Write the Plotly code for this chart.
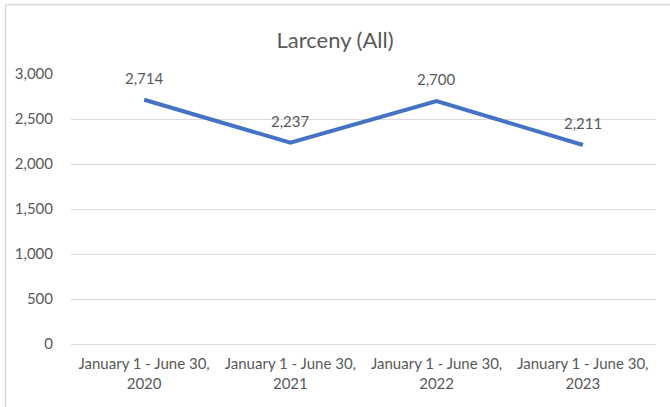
import plotly.graph_objects as go

categories = ["January 1 - June 30,<br>2020", "January 1 - June 30,<br>2021",
              "January 1 - June 30,<br>2022", "January 1 - June 30,<br>2023"]
values = [2714, 2237, 2700, 2211]
y_ticks = [0, 500, 1000, 1500, 2000, 2500, 3000]
y_tick_labels = ["0", "500", "1,000", "1,500", "2,000", "2,500", "3,000"]

FONT = "Lato"
GRAY = "#595959"
TICK_SIZE = 15

fig = go.Figure()
fig.add_trace(go.Scatter(
    x=categories, y=values, mode="lines",
    line=dict(color="#4472C4", width=4),
    hoverinfo="skip", showlegend=False,
))

for c, v in zip(categories, values):
    fig.add_annotation(x=c, y=v, text=f"{v:,}", showarrow=False, yshift=22,
                       font=dict(family=FONT, size=TICK_SIZE, color=GRAY))

W, H = 670, 407
L, R, T, B = 71, 14, 74, 63
pw, ph = W - L - R, H - T - B

def px(xp):
    return (xp - L) / pw

def py(yp):
    return (H - B - yp) / ph

# chart border (top and left visible)
fig.add_shape(type="line", xref="paper", yref="paper",
              x0=px(5.5), x1=px(700), y0=py(4.5), y1=py(4.5),
              line=dict(color="#D9D9D9", width=1.5))
fig.add_shape(type="line", xref="paper", yref="paper",
              x0=px(5.5), x1=px(5.5), y0=py(4.5), y1=py(450),
              line=dict(color="#D9D9D9", width=1.5))

fig.update_layout(
    width=W, height=H,
    margin=dict(l=L, r=R, t=T, b=B),
    paper_bgcolor="white", plot_bgcolor="white",
    title=dict(text="Larceny (All)", x=0.5, xanchor="center",
               y=1 - 40 / H, yanchor="middle",
               font=dict(family=FONT, size=22, color=GRAY)),
    font=dict(family=FONT, color=GRAY),
    xaxis=dict(type="category", range=[-0.5, 3.5], showgrid=False,
               showline=False, zeroline=False,
               ticks="outside", ticklen=6, tickcolor="rgba(0,0,0,0)",
               tickfont=dict(family=FONT, size=TICK_SIZE, color=GRAY)),
    yaxis=dict(range=[0, 3000], tickvals=y_ticks, ticktext=y_tick_labels,
               showgrid=True, gridcolor="#D9D9D9", gridwidth=1,
               zeroline=True, zerolinecolor="#D9D9D9", zerolinewidth=1,
               showline=False,
               ticks="outside", ticklen=14, tickcolor="rgba(0,0,0,0)",
               tickfont=dict(family=FONT, size=TICK_SIZE, color=GRAY)),
)

fig.write_html("out.html", config={"displayModeBar": False},
               post_script="document.body.style.margin='0';document.body.style.overflow='hidden';")
